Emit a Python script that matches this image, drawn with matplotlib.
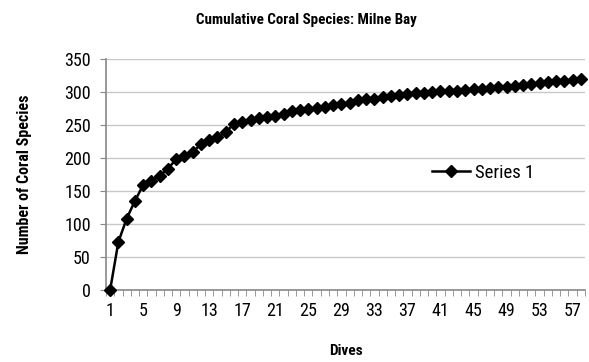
import matplotlib
matplotlib.use("Agg")
import matplotlib.pyplot as plt
import numpy as np

# ---------------- DATA ----------------
dives = np.arange(1, 59)
species = [0, 73, 108, 135, 159, 165, 173, 184, 198, 203, 209, 221, 227, 232, 239,
           252, 255, 258, 260, 262, 263, 267, 271, 272, 274, 276, 278, 280, 282, 284,
           288, 289, 290, 292, 294, 296, 297, 299, 299, 300, 301, 302, 302, 303, 304,
           305, 306, 307, 308, 309, 311, 312, 313, 315, 316, 317, 318, 320]
x_ticks = list(range(1, 58, 4))
y_ticks = list(range(0, 351, 50))

plt.rcParams["font.family"] = ["Roboto Condensed", "DejaVu Sans"]

# ---------------- PLOT ----------------
fig = plt.figure(figsize=(5.89, 3.62), dpi=100)
ax = fig.add_axes([106 / 589, 1 - 290 / 362, (585 - 106) / 589, (290 - 59) / 362])

ax.plot(dives, species, color="black", lw=1.8, marker="D", ms=6.2,
        markerfacecolor="black", markeredgecolor="black", label="Series 1",
        clip_on=False, zorder=3)

ax.set_xlim(0.5, 58.5)
ax.set_ylim(0, 350)
ax.set_yticks(y_ticks)
ax.set_xticks(x_ticks)
ax.set_xticks(np.arange(0.5, 59, 1), minor=True)
ax.tick_params(axis="x", which="major", length=0, pad=9, labelsize=13)
ax.tick_params(axis="x", which="minor", length=4, color="#888888", direction="out")
ax.tick_params(axis="y", length=4, color="#888888", pad=7, labelsize=13)

ax.grid(axis="y", color="#c8c8c8", lw=1)
ax.set_axisbelow(True)
for side in ("top", "right"):
    ax.spines[side].set_visible(False)
for side in ("left", "bottom"):
    ax.spines[side].set_color("#888888")
    ax.spines[side].set_linewidth(1.2)

# ---------------- LABELS ----------------
fig.text(306 / 589, 1 - 20 / 362, "Cumulative Coral Species: Milne Bay",
         ha="center", va="center", fontsize=10.8, fontweight="bold")
fig.text(346 / 589, 1 - 351 / 362, "Dives", ha="center", va="center",
         fontsize=11, fontweight="bold")
fig.text(25 / 589, 1 - 174 / 362, "Number of Coral Species", ha="center",
         va="center", rotation=90, fontsize=11.5, fontweight="bold")

ax.legend(loc="center left", bbox_to_anchor=(326 / 479, (290 - 173) / 231),
          frameon=False, fontsize=13.5, handlelength=2.0, handletextpad=0.3,
          borderaxespad=0, borderpad=0)

fig.savefig("out.png", dpi=100)
